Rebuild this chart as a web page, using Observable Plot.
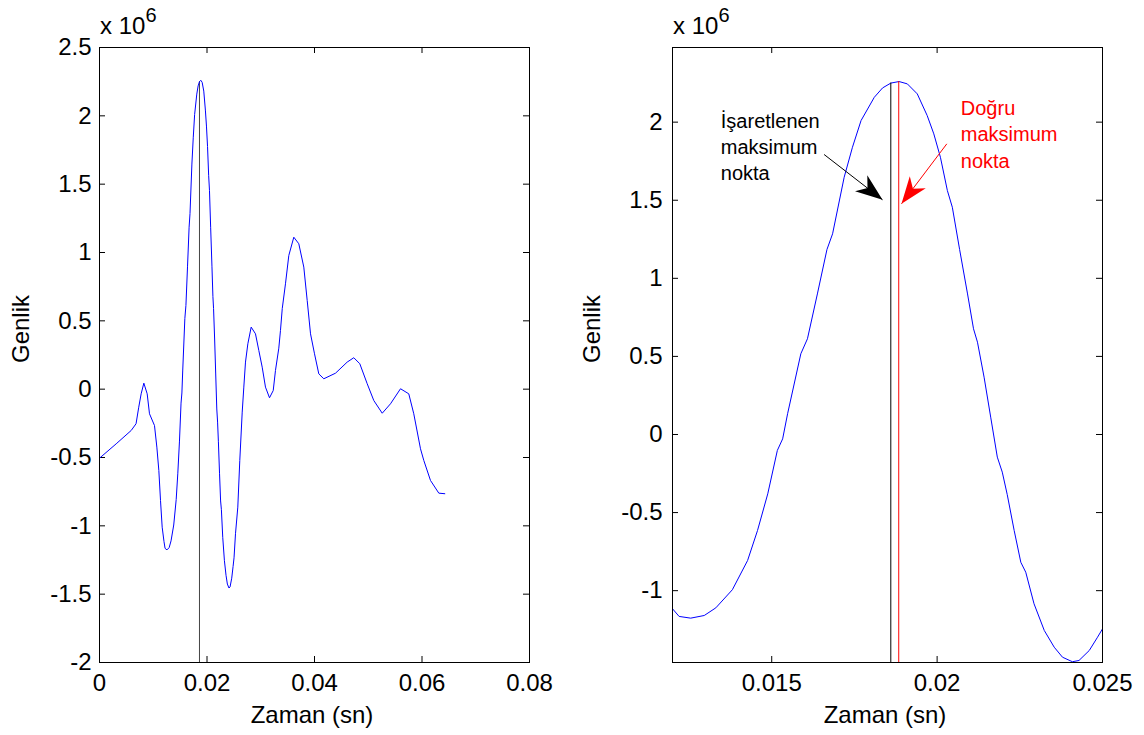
<!DOCTYPE html>
<html>
<head>
<meta charset="utf-8">
<script src="https://cdn.jsdelivr.net/npm/d3@7"></script>
<script src="https://cdn.jsdelivr.net/npm/@observablehq/plot@0.6"></script>
<style>
  html, body { margin: 0; padding: 0; background: white; }
  #root { position: relative; width: 1144px; height: 735px; overflow: hidden; background: white; }
  #root svg { position: absolute; top: 0; }
</style>
</head>
<body>
<div id="root"></div>
<script>
// ---- data (amplitude in units of 10^6) ----
const time = [
  0, 0.0031, 0.0059, 0.0068, 0.0073, 0.00775, 0.00825, 0.00887, 0.0093, 0.01023,
  0.01067, 0.01104, 0.01135, 0.01166, 0.0120, 0.0122, 0.01255, 0.01296, 0.01331, 0.01381,
  0.01427, 0.01457, 0.01488, 0.01517, 0.01533, 0.01548, 0.01588, 0.01608, 0.01638, 0.01667,
  0.01684, 0.01719, 0.01744, 0.0177, 0.0181, 0.01835, 0.0186, 0.01885, 0.0191, 0.0194,
  0.0197, 0.0199, 0.0201, 0.02031, 0.02046, 0.02068, 0.02092, 0.0211, 0.02122, 0.02142,
  0.02162, 0.02182, 0.02197, 0.02212, 0.02233, 0.02253, 0.02268, 0.02293, 0.02324, 0.02354,
  0.02379, 0.02409, 0.02429, 0.0246, 0.02485, 0.02503, 0.0253, 0.02573, 0.0261, 0.02655,
  0.02685, 0.02716, 0.0276, 0.02822, 0.02902, 0.02964, 0.03027, 0.03088, 0.03163, 0.03232,
  0.03274, 0.03336, 0.03367, 0.034, 0.0346, 0.03522, 0.03615, 0.03708, 0.03801, 0.03864,
  0.03926, 0.04, 0.0408, 0.04173, 0.04391, 0.04608, 0.04731, 0.04843, 0.0498, 0.05103,
  0.0526, 0.05414, 0.056, 0.05754, 0.05847, 0.05972, 0.06034, 0.06158, 0.06313, 0.06424
];
const amplitude = [
  -0.505, -0.40, -0.302, -0.253, -0.132, -0.034, 0.044, -0.034, -0.18, -0.266,
  -0.424, -0.595, -0.814, -1.01, -1.116, -1.165, -1.176, -1.159, -1.11, -0.994,
  -0.807, -0.615, -0.38, -0.102, -0.028, 0.133, 0.517, 0.613, 0.90, 1.185,
  1.285, 1.647, 1.839, 2.01, 2.159, 2.219, 2.25, 2.26, 2.245, 2.181,
  2.042, 1.925, 1.775, 1.562, 1.455, 1.185, 0.90, 0.677, 0.591, 0.367,
  0.111, -0.145, -0.241, -0.385, -0.615, -0.818, -0.882, -1.084, -1.255, -1.362,
  -1.426, -1.455, -1.447, -1.383, -1.298, -1.234, -1.058, -0.863, -0.522, -0.168,
  0.015, 0.198, 0.332, 0.454, 0.405, 0.283, 0.161, 0.015, -0.063, -0.01,
  0.137, 0.30, 0.43, 0.59, 0.771, 0.978, 1.112, 1.064, 0.893, 0.649,
  0.405, 0.259, 0.112, 0.076, 0.117, 0.198, 0.23, 0.186, 0.04, -0.083,
  -0.176, -0.107, 0.003, -0.034, -0.18, -0.436, -0.522, -0.668, -0.761, -0.765
];

const leftXDomain = [0, 0.08];
const leftYDomain = [-2, 2.5];
const leftXTicks = [0, 0.02, 0.04, 0.06, 0.08];
const leftYTicks = [-2, -1.5, -1, -0.5, 0, 0.5, 1, 1.5, 2, 2.5];

const rightXDomain = [0.012, 0.025];
const rightYDomain = [-1.46, 2.478];
const rightXTicks = [0.015, 0.02, 0.025];
const rightYTicks = [-1, -0.5, 0, 0.5, 1, 1.5, 2];

const markedTime = 0.0186, markedPeak = 2.25;   // işaretlenen maksimum
const trueTime = 0.01884, truePeak = 2.26;      // doğru maksimum

const xLabel = "Zaman (sn)";
const yLabel = "Genlik";
const scaleText = "x 10";
const scaleExp = "6";

const markedNote = ["İşaretlenen", "maksimum", "nokta"];
const trueNote = ["Doğru", "maksimum", "nokta"];
const markedNoteAt = [0.01346, 2.085];
const trueNoteAt = [0.020716, 2.166];
const markedArrow = [0.016583, 1.793, 0.018349, 1.503];
const trueArrow = [0.020293, 1.861, 0.018923, 1.477];

// ---- build ----
const signal = time.map((t, i) => ({t, v: amplitude[i]}));
const FONT = "'Liberation Sans', Arial, Helvetica, sans-serif";

function filledHead(color) {
  const ns = "http://www.w3.org/2000/svg";
  const m = document.createElementNS(ns, "marker");
  m.setAttribute("viewBox", "-30 -12 32 24");
  m.setAttribute("markerWidth", 32);
  m.setAttribute("markerHeight", 24);
  m.setAttribute("markerUnits", "userSpaceOnUse");
  m.setAttribute("refX", 0);
  m.setAttribute("refY", 0);
  m.setAttribute("orient", "auto");
  const p = document.createElementNS(ns, "path");
  p.setAttribute("d", "M0,0L-27,-10L-19,0L-27,10Z");
  p.setAttribute("fill", color);
  p.setAttribute("stroke", "none");
  m.appendChild(p);
  return m;
}

function panel(o) {
  const fh = o.height - o.mt - o.mb;
  const fw = o.width - o.ml - o.mr;
  const T = 6;
  return Plot.plot({
    width: o.width, height: o.height,
    marginLeft: o.ml, marginRight: o.mr, marginTop: o.mt, marginBottom: o.mb,
    x: {domain: o.xDomain},
    y: {domain: o.yDomain},
    style: {fontFamily: FONT, fontSize: "24px", background: "white", color: "black"},
    marks: [
      Plot.ruleX(o.xTicks, {insetTop: fh - T, stroke: "black"}),
      Plot.ruleX(o.xTicks, {insetBottom: fh - T, stroke: "black"}),
      Plot.ruleY(o.yTicks, {insetLeft: fw - T, stroke: "black"}),
      Plot.ruleY(o.yTicks, {insetRight: fw - T, stroke: "black"}),
      Plot.axisX({ticks: o.xTicks, tickSize: 0, tickPadding: 11, tickFormat: d => String(d), fontSize: 24, label: null}),
      Plot.axisY({ticks: o.yTicks, tickSize: 0, tickPadding: o.yPad, tickFormat: d => String(d), fontSize: 24, label: null}),
      ...o.marks,
      Plot.frame({stroke: "black"}),
      Plot.text([xLabel], {frameAnchor: "bottom", lineAnchor: "top", dx: -2.5, dy: 43, fontSize: 24}),
      Plot.text([yLabel], {frameAnchor: "left", rotate: -90, dx: o.yLabelDx, dy: o.yLabelDy, fontSize: 24}),
      Plot.text([scaleText], {frameAnchor: "top-left", textAnchor: "start", lineAnchor: "bottom", dx: 0.5, dy: -13.7, fontSize: 24}),
      Plot.text([scaleExp], {frameAnchor: "top-left", textAnchor: "start", lineAnchor: "bottom", dx: 46, dy: -25.3, fontSize: 20})
    ]
  });
}

const left = panel({
  width: 560, height: 735, ml: 99, mr: 31, mt: 47, mb: 73,
  xDomain: leftXDomain, yDomain: leftYDomain, xTicks: leftXTicks, yTicks: leftYTicks,
  yPad: 8, yLabelDx: -78, yLabelDy: 8,
  marks: [
    Plot.ruleX([markedTime], {y1: leftYDomain[0], y2: markedPeak, stroke: "#444", strokeWidth: 1}),
    Plot.line(signal, {x: "t", y: "v", stroke: "#0000ff", strokeWidth: 1})
  ]
});
left.style.left = "0px";

const right = panel({
  width: 584, height: 735, ml: 112, mr: 42, mt: 47, mb: 73,
  xDomain: rightXDomain, yDomain: rightYDomain, xTicks: rightXTicks, yTicks: rightYTicks,
  yPad: 10, yLabelDx: -80, yLabelDy: 8,
  marks: [
    Plot.line(signal, {x: "t", y: "v", stroke: "#0000ff", strokeWidth: 1, clip: true}),
    Plot.ruleX([markedTime], {y1: rightYDomain[0], y2: markedPeak, stroke: "black", strokeWidth: 1}),
    Plot.ruleX([trueTime], {y1: rightYDomain[0], y2: truePeak, stroke: "#ff0000", strokeWidth: 1}),
    Plot.text([markedNote.join("\n")], {x: () => markedNoteAt[0], y: () => markedNoteAt[1], textAnchor: "start", lineAnchor: "top", lineHeight: 1.32, fontSize: 20, fill: "black"}),
    Plot.text([trueNote.join("\n")], {x: () => trueNoteAt[0], y: () => trueNoteAt[1], textAnchor: "start", lineAnchor: "top", lineHeight: 1.32, fontSize: 20, fill: "#ff0000"}),
    Plot.link([markedArrow], {x1: d => d[0], y1: d => d[1], x2: d => d[2], y2: d => d[3], stroke: "black", strokeWidth: 1, markerEnd: filledHead}),
    Plot.link([trueArrow], {x1: d => d[0], y1: d => d[1], x2: d => d[2], y2: d => d[3], stroke: "#ff0000", strokeWidth: 1, markerEnd: filledHead})
  ]
});
right.style.left = "560px";

const root = document.getElementById("root");
root.appendChild(left);
root.appendChild(right);
</script>
</body>
</html>
